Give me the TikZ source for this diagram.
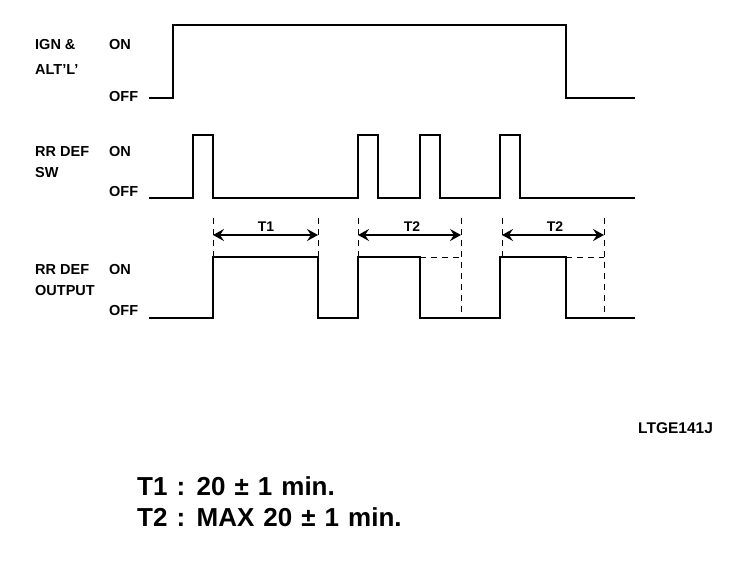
\documentclass[tikz,border=0pt]{standalone}
\usepackage{fontspec}
\setmainfont{Liberation Sans}
\newfontfamily\notefont[WordSpace=1.25]{Liberation Sans}
\usetikzlibrary{arrows.meta}
\begin{document}
\begin{tikzpicture}[x=1pt,y=-1pt,
  wave/.style={line width=2.8pt,line join=miter},
  guide/.style={line width=0.9pt,dash pattern=on 6pt off 5pt},
  span/.style={line width=1.8pt,{Stealth[length=11pt,width=12pt,inset=4pt]}-{Stealth[length=11pt,width=12pt,inset=4pt]}},
  lbl/.style={font=\bfseries\fontsize{14.5}{16}\selectfont,anchor=west,inner sep=0pt},
  spanlbl/.style={font=\bfseries\fontsize{14}{16}\selectfont,inner sep=0pt},
  note/.style={font=\notefont\bfseries\fontsize{26}{28}\selectfont,anchor=west,inner sep=0pt}]
\useasboundingbox (0,0) rectangle (752,560);
% left labels
\node[lbl] (ign) at (35,45) {IGN \&};
\node[lbl] (alt) at (35,70) {ALT'L'};
\node[lbl] (ignon) at (109,45) {ON};
\node[lbl] (ignoff) at (109,97) {OFF};
\node[lbl] (sw1) at (35,152) {RR DEF};
\node[lbl] (sw2) at (35,173) {SW};
\node[lbl] (swon) at (109,152) {ON};
\node[lbl] (swoff) at (109,192) {OFF};
\node[lbl] (out1) at (35,270) {RR DEF};
\node[lbl] (out2) at (35,291) {OUTPUT};
\node[lbl] (outon) at (109,270) {ON};
\node[lbl] (outoff) at (109,311) {OFF};
% waveforms
\draw[wave] (149,98) -- (173,98) -- (173,25) -- (566,25) -- (566,98) -- (635,98);
\draw[wave] (149,198) -- (193,198) -- (193,135) -- (213,135) -- (213,198)
  -- (358,198) -- (358,135) -- (378,135) -- (378,198)
  -- (420,198) -- (420,135) -- (440,135) -- (440,198)
  -- (500,198) -- (500,135) -- (520,135) -- (520,198) -- (635,198);
\draw[wave] (149,318) -- (213,318) -- (213,257) -- (318,257) -- (318,318)
  -- (358,318) -- (358,257) -- (420,257) -- (420,318)
  -- (500,318) -- (500,257) -- (566,257) -- (566,318) -- (635,318);
% guides
\draw[guide] (213,218) -- (213,257);
\draw[guide] (318,218) -- (318,257);
\draw[guide] (358,218) -- (358,257);
\draw[guide] (461,218) -- (461,318);
\draw[guide] (502,218) -- (502,257);
\draw[guide] (604,218) -- (604,318);
\draw[guide] (420,257) -- (461,257);
\draw[guide] (566,257) -- (604,257);
% spans
\coordinate (a1) at (213,235); \coordinate (b1) at (318,235);
\coordinate (a2) at (358,235); \coordinate (b2) at (461,235);
\coordinate (a3) at (502,235); \coordinate (b3) at (604,235);
\draw[span] (a1) -- (b1);
\draw[span] (a2) -- (b2);
\draw[span] (a3) -- (b3);
\node[spanlbl] (t1) at (266,227) {T1};
\node[spanlbl] (t2a) at (412,227) {T2};
\node[spanlbl] (t2b) at (555,227) {T2};
% code & notes
\node[lbl,font=\bfseries\fontsize{15.5}{17}\selectfont] (code) at (638,428) {LTGE141J};
\node[note] (n1) at (137,486) {T1 : 20 ± 1 min.};
\node[note] (n2) at (137,517) {T2 : MAX 20 ± 1 min.};
\end{tikzpicture}
\end{document}
